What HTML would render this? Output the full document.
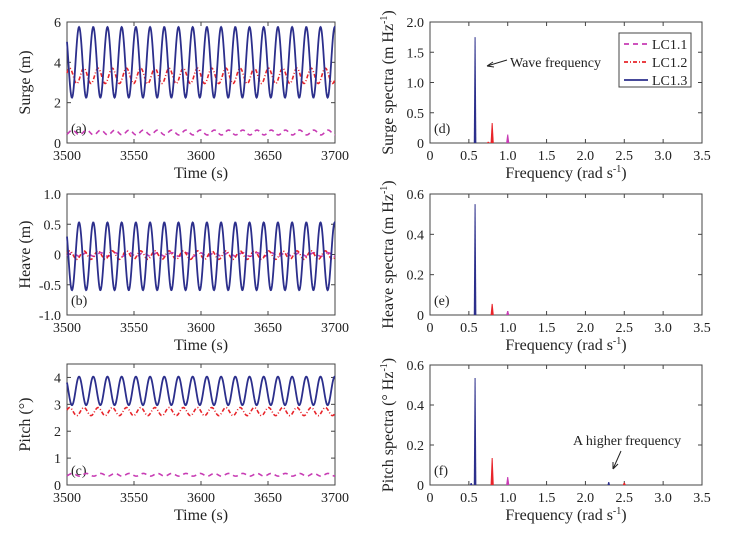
<!DOCTYPE html>
<html><head><meta charset="utf-8"><style>
body{margin:0;background:#fff}
svg{display:block;font-family:"Liberation Serif",serif}
</style></head><body>
<svg id="fig" width="739" height="537" viewBox="0 0 739 537"></svg>
<script>
// ---- Time-series data (per series: mean, amplitude, period s, phase s) ----
const tsSeriesNames = ["LC1.1","LC1.2","LC1.3"];
const surgeMean = [0.52, 3.33, 4.0];
const surgeAmp = [0.12, 0.38, 1.75];
const heaveMean = [0.0, -0.01, -0.03];
const heaveAmp = [0.03, 0.07, 0.56];
const pitchMean = [0.38, 2.73, 3.5];
const pitchAmp = [0.05, 0.15, 0.53];
const seriesPeriod = [10.6, 10.6, 10.6];
const seriesPhase = [4.0, 2.0, 9.0];
const timeTicks = [3500,3550,3600,3650,3700];
// ---- Spectra data: [frequency, amplitude] peaks ----
const surgeSpec1 = [[1.0,0.14]];
const surgeSpec2 = [[0.8,0.33],[0.75,0.02]];
const surgeSpec3 = [[0.58,1.75]];
const heaveSpec1 = [[1.0,0.02]];
const heaveSpec2 = [[0.8,0.055]];
const heaveSpec3 = [[0.58,0.55]];
const pitchSpec1 = [[1.0,0.04]];
const pitchSpec2 = [[0.8,0.135],[2.5,0.012]];
const pitchSpec3 = [[0.58,0.535],[0.53,0.01],[2.3,0.015]];
const freqTicks = ["0","0.5","1.0","1.5","2.0","2.5","3.0","3.5"];

const NS="http://www.w3.org/2000/svg";
const svg=document.getElementById('fig');
const colors=["#c83cb4","#e8242a","#2c2f8c"];
const dashes=["5,4","4,2,1,2",""];
function mk(tag,attrs,parent){const e=document.createElementNS(NS,tag);for(const k in attrs)e.setAttribute(k,attrs[k]);(parent||svg).appendChild(e);return e;}
function txt(s,x,y,attrs,parent){const e=mk('text',Object.assign({x:x,y:y,'font-size':14,fill:'#222'},attrs),parent);e.textContent=s;return e;}

function panel(name,box,ymin,ymax,yticks,xmin,xmax,xticks,xlabels,ylabel,tag,xtitle){
  const g=mk('g',{});
  
  
  const [x0,y0,x1,y1]=box;
  const sx=v=>x0+(v-xmin)/(xmax-xmin)*(x1-x0);
  const sy=v=>y1-(v-ymin)/(ymax-ymin)*(y1-y0);
  const frame=mk('rect',{x:x0,y:y0,width:x1-x0,height:y1-y0,fill:'none',stroke:'#444','stroke-width':1},g);
  
  
  yticks.forEach(t=>{
    mk('line',{x1:x0,x2:x0+4,y1:sy(t[0]),y2:sy(t[0]),stroke:'#444'},g);
    mk('line',{x1:x1,x2:x1-4,y1:sy(t[0]),y2:sy(t[0]),stroke:'#444'},g);
    const l=txt(t[1],x0-6,sy(t[0])+5,{'text-anchor':'end'},g);
    
    
  });
  xticks.forEach((v,i)=>{
    mk('line',{x1:sx(v),x2:sx(v),y1:y1,y2:y1-4,stroke:'#444'},g);
    mk('line',{x1:sx(v),x2:sx(v),y1:y0,y2:y0+4,stroke:'#444'},g);
    const l=txt(xlabels[i],sx(v),y1+17,{'text-anchor':'middle'},g);
    
    
  });
  const xt=txt(xtitle[0],(x0+x1)/2,y1+35,{'text-anchor':'middle','font-size':16},g);
  if(xtitle[1]){const sp=mk('tspan',{'font-size':10,dy:-6},xt);sp.textContent=xtitle[1];const sp2=mk('tspan',{dy:6},xt);sp2.textContent=xtitle[2];}
  
  
  const cy=(y0+y1)/2;
  const yt=txt(ylabel[0],0,0,{'text-anchor':'middle','font-size':16,transform:`translate(${x0-37},${cy}) rotate(-90)`},g);
  if(ylabel[1]){const sp=mk('tspan',{'font-size':10,dy:-6},yt);sp.textContent=ylabel[1];const sp2=mk('tspan',{dy:6},yt);sp2.textContent=ylabel[2];}
  
  
  const tg=txt(tag,x0+4,y1-10,{'font-size':14},g);
  
  
  return {g,sx,sy,x0,x1,y0,y1};
}

function timeSeries(p,means,amps,name){
  for(let s=0;s<3;s++){
    let d='';
    for(let t=3500;t<=3700;t+=0.25){
      const ph=2*Math.PI*(t-3500-seriesPhase[s])/seriesPeriod[s];
      const v=means[s]+amps[s]*Math.cos(ph);
      d+=(d?'L':'M')+p.sx(t).toFixed(2)+','+p.sy(v).toFixed(2);
    }
    const path=mk('path',{d:d,fill:'none',stroke:colors[s],'stroke-width':s==2?1.8:1.6,'stroke-dasharray':dashes[s]},p.g);
    
    
  }
}
function spectra(p,specs,name){
  specs.forEach((arr,s)=>{
    arr.forEach(pk=>{
      const x=p.sx(pk[0]),w=s==2?1.3:1.6;
      const poly=mk('polygon',{points:`${x-w},${p.y1} ${x-0.5},${p.sy(pk[1])} ${x+0.5},${p.sy(pk[1])} ${x+w},${p.y1}`,fill:colors[s],stroke:'none'},p.g);
      
      
    });
  });
}
const tl=timeTicks.map(String);
const fv=freqTicks.map(Number);
const tT=["Time (s)"];
const fT=["Frequency (rad s","-1",")"];

const pa=panel('surge-panel',[67,22,335,143],0,6,[[0,'0'],[2,'2'],[4,'4'],[6,'6']],3500,3700,timeTicks,tl,["Surge (m)"],'(a)',tT);
timeSeries(pa,surgeMean,surgeAmp,'surge');
const pb=panel('heave-panel',[67,194,335,315],-1,1,[[-1,'-1.0'],[-0.5,'-0.5'],[0,'0'],[0.5,'0.5'],[1,'1.0']],3500,3700,timeTicks,tl,["Heave (m)"],'(b)',tT);
timeSeries(pb,heaveMean,heaveAmp,'heave');
const pc=panel('pitch-panel',[67,364,335,485],0,4.5,[[0,'0'],[1,'1'],[2,'2'],[3,'3'],[4,'4']],3500,3700,timeTicks,tl,["Pitch (°)"],'(c)',tT);
timeSeries(pc,pitchMean,pitchAmp,'pitch');

const pd=panel('surge-spectra-panel',[430,22,702,143],0,2,[[0,'0'],[0.5,'0.5'],[1,'1.0'],[1.5,'1.5'],[2,'2.0']],0,3.5,fv,freqTicks,["Surge spectra (m Hz","-1",")"],'(d)',fT);
spectra(pd,[surgeSpec1,surgeSpec2,surgeSpec3],'surge-spectra');
const pe=panel('heave-spectra-panel',[430,194,702,315],0,0.6,[[0,'0'],[0.2,'0.2'],[0.4,'0.4'],[0.6,'0.6']],0,3.5,fv,freqTicks,["Heave spectra (m Hz","-1",")"],'(e)',fT);
spectra(pe,[heaveSpec1,heaveSpec2,heaveSpec3],'heave-spectra');
const pf=panel('pitch-spectra-panel',[430,365,702,485],0,0.6,[[0,'0'],[0.2,'0.2'],[0.4,'0.4'],[0.6,'0.6']],0,3.5,fv,freqTicks,["Pitch spectra (° Hz","-1",")"],'(f)',fT);
spectra(pf,[pitchSpec1,pitchSpec2,pitchSpec3],'pitch-spectra');

// annotations
const a1=txt('Wave frequency',510,67,{'font-size':14});


const ar1=mk('path',{d:'M507,60 L487,66 M487,66 l6,-4 M487,66 l7,1',stroke:'#222',fill:'none','stroke-width':1});


const a2=txt('A higher frequency',573,445,{'font-size':14});


const ar2=mk('path',{d:'M621,451 L613,469 M613,469 l0,-7 M613,469 l5,-5',stroke:'#222',fill:'none','stroke-width':1});



// legend
const lg=mk('g',{});


mk('rect',{x:619,y:33,width:72,height:54,fill:'#fff',stroke:'#444'},lg);
tsSeriesNames.forEach((n,i)=>{
  const y=44+i*18;
  const ln=mk('line',{x1:624,x2:648,y1:y,y2:y,stroke:colors[i],'stroke-width':1.8,'stroke-dasharray':dashes[i]},lg);
  
  
  const t=txt(n,652,y+5,{'font-size':14},lg);
  
  
});
</script>
</body></html>
